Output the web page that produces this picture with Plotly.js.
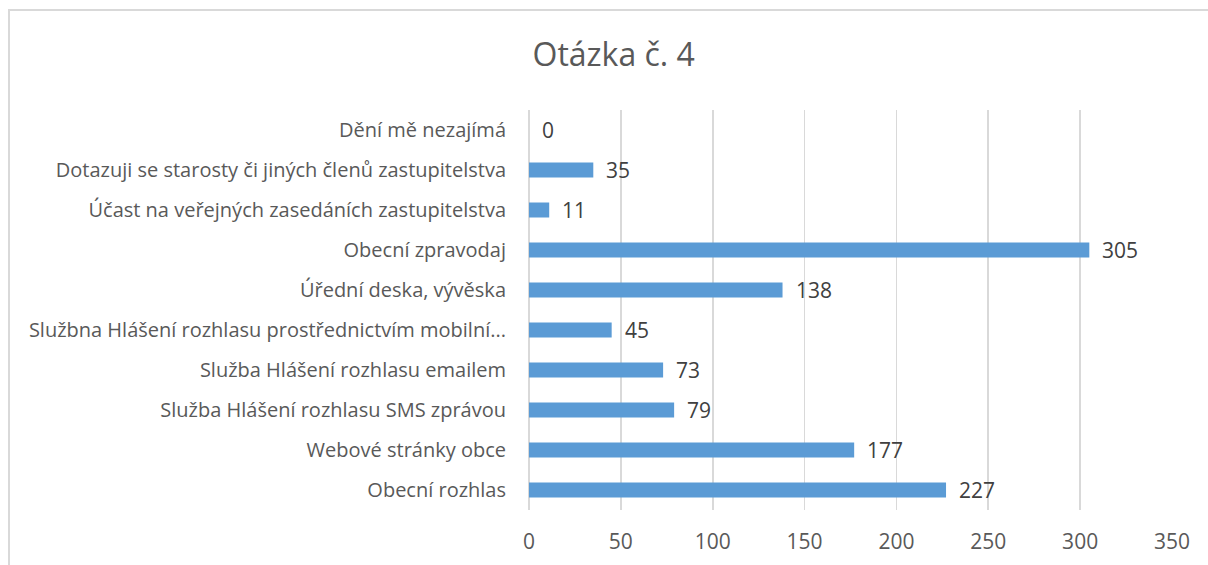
<!DOCTYPE html>
<html>
<head>
<meta charset="utf-8">
<script src="https://cdn.plot.ly/plotly-3.0.1.min.js"></script>
<style>
html,body{margin:0;padding:0;background:#fff;}
#wrap{position:relative;width:1208px;height:565px;overflow:hidden;}
#chart{position:absolute;left:0;top:0;width:1208px;height:565px;}
#frame{position:absolute;left:8px;top:9px;width:1300px;height:700px;border:2px solid #d9d9d9;pointer-events:none;box-sizing:border-box;}
</style>
</head>
<body>
<div id="wrap"><div id="chart"></div><div id="frame"></div></div>
<script>
const chartTitle = "Otázka č. 4";
const categories = [
  "Dění mě nezajímá",
  "Dotazuji se starosty či jiných členů zastupitelstva",
  "Účast na veřejných zasedáních zastupitelstva",
  "Obecní zpravodaj",
  "Úřední deska, vývěska",
  "Službna Hlášení rozhlasu prostřednictvím mobilní...",
  "Služba Hlášení rozhlasu emailem",
  "Služba Hlášení rozhlasu SMS zprávou",
  "Webové stránky obce",
  "Obecní rozhlas"
];
const values = [0, 35, 11, 305, 138, 45, 73, 79, 177, 227];
const xTicks = [0, 50, 100, 150, 200, 250, 300, 350];

const font = "'Open Sans', 'Noto Sans', sans-serif";
const grey = "#595959";

const trace = {
  type: "bar",
  orientation: "h",
  x: values,
  y: categories,
  marker: {color: "#5B9BD5"},
  hoverinfo: "x+y"
};

const annotations = values.map((v, i) => ({
  x: v, y: categories[i], xref: "x", yref: "y",
  text: String(v), showarrow: false, xanchor: "left",
  xshift: 11, font: {family: font, size: 21, color: "#404040"}
}));

const layout = {
  width: 1208, height: 565,
  margin: {l: 529, r: 36, t: 110, b: 55, pad: 0},
  paper_bgcolor: "#fff", plot_bgcolor: "#fff",
  bargap: 0.625,
  showlegend: false,
  title: {text: chartTitle, x: 0.508, xanchor: "center", y: 0.903, yanchor: "middle",
          font: {family: font, size: 32, color: grey}},
  xaxis: {range: [0, 350], tickvals: xTicks, ticktext: xTicks.map(String),
          showgrid: true, gridcolor: "#d9d9d9", gridwidth: 1.8,
          zeroline: true, zerolinecolor: "#d9d9d9", zerolinewidth: 1.8,
          showline: false, ticks: "", ticklabelstandoff: 17,
          tickfont: {family: font, size: 21, color: grey}, fixedrange: true},
  yaxis: {autorange: "reversed", showgrid: false, zeroline: false, showline: false,
          ticks: "", ticklabelstandoff: 22,
          tickfont: {family: font, size: 20, color: grey}, fixedrange: true},
  annotations: annotations
};

Plotly.newPlot("chart", [trace], layout, {displayModeBar: false, staticPlot: true});
</script>
</body>
</html>
